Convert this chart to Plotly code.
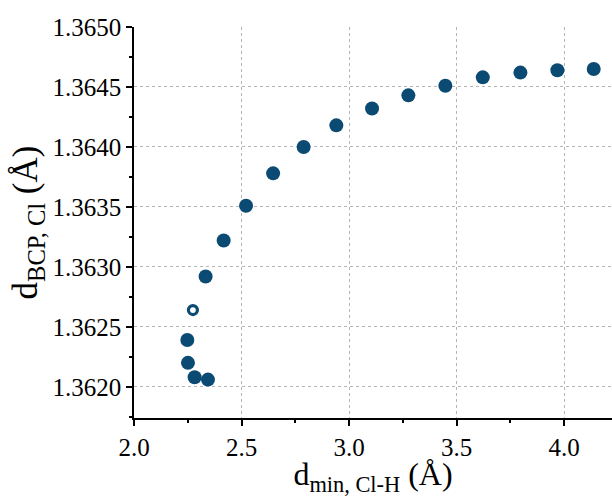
import plotly.graph_objects as go

# Minimum Cl–H distance (Å) and bond critical point distance (Å)
d_min_clh = [2.344, 2.282, 2.251, 2.248, 2.333, 2.417, 2.521, 2.647, 2.789,
             2.941, 3.107, 3.276, 3.448, 3.622, 3.797, 3.969, 4.138]
d_bcp_cl = [1.36206, 1.36208, 1.36220, 1.36239, 1.36292, 1.36322, 1.36351,
            1.36378, 1.36400, 1.36418, 1.36432, 1.36443, 1.36451, 1.36458,
            1.36462, 1.36464, 1.36465]

# Highlighted structure (open marker)
open_x = [2.274]
open_y = [1.36264]

x_ticks = [2.0, 2.5, 3.0, 3.5, 4.0]
y_ticks = [1.3620, 1.3625, 1.3630, 1.3635, 1.3640, 1.3645, 1.3650]

color = "#0b4a72"
font_family = "Liberation Serif"

fig = go.Figure()
fig.add_trace(go.Scatter(
    x=d_min_clh, y=d_bcp_cl, mode="markers",
    marker=dict(size=14, color=color, line=dict(width=0)),
    showlegend=False,
))
fig.add_trace(go.Scatter(
    x=open_x, y=open_y, mode="markers",
    marker=dict(size=9, color="white", line=dict(width=3.2, color=color)),
    showlegend=False,
))

axis_common = dict(
    showline=True, linecolor="black", linewidth=1.5,
    ticks="outside", ticklen=6, tickwidth=1.5, tickcolor="black",
    showgrid=True, gridcolor="#b5b5b5", gridwidth=1, griddash="dot",
    zeroline=False, mirror=False,
    tickfont=dict(family=font_family, size=25, color="black"),
    minor=dict(ticks="outside", ticklen=3, tickwidth=1.5, tickcolor="black",
               showgrid=False),
)

fig.update_layout(
    width=612, height=497,
    margin=dict(l=134, r=0, t=27, b=79),
    paper_bgcolor="white", plot_bgcolor="white",
    font=dict(family=font_family, color="black"),
    xaxis=dict(
        range=[2.0, 4.223], tickvals=x_ticks, tickformat=".1f",
        minor_dtick=0.25,
        title=dict(text="d<sub>min, Cl-H</sub> (Å)",
                   font=dict(family=font_family, size=32), standoff=2),
        **axis_common,
    ),
    yaxis=dict(
        range=[1.36174, 1.3650], tickvals=y_ticks, tickformat=".4f",
        minor_dtick=0.00025,
        title=dict(text="d<sub>BCP, Cl</sub> (Å)",
                   font=dict(family=font_family, size=35), standoff=4),
        **axis_common,
    ),
)

fig.write_html("out.html")
